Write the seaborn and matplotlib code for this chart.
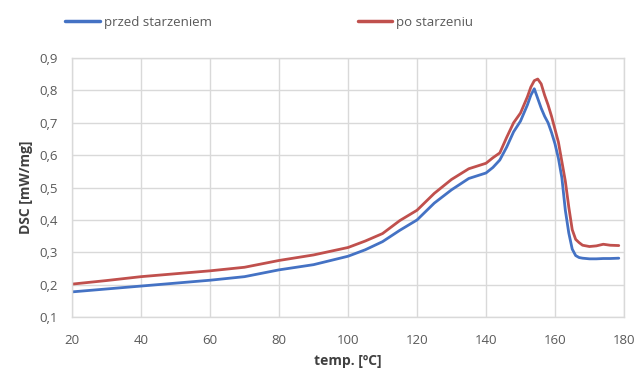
import matplotlib
matplotlib.use("Agg")
import matplotlib.pyplot as plt
import seaborn as sns
import pandas as pd
from matplotlib.ticker import FuncFormatter
from matplotlib.lines import Line2D

temp = [20, 30, 40, 50, 60, 70, 80, 90, 100, 105, 110, 115, 120, 125, 130, 135,
        140, 142, 144, 146, 148, 150, 152, 153, 154, 155, 156, 157, 158, 159,
        160, 161, 162, 163, 164, 165, 166, 167, 168, 170, 172, 174, 176, 178.5]

przed = [0.178, 0.187, 0.196, 0.205, 0.214, 0.225, 0.246, 0.262, 0.288, 0.308,
         0.333, 0.368, 0.400, 0.452, 0.493, 0.528, 0.545, 0.562, 0.585, 0.625,
         0.672, 0.705, 0.755, 0.785, 0.805, 0.775, 0.745, 0.720, 0.700, 0.670,
         0.635, 0.590, 0.530, 0.430, 0.360, 0.310, 0.290, 0.284, 0.282, 0.280,
         0.280, 0.281, 0.281, 0.282]

po = [0.202, 0.213, 0.225, 0.234, 0.243, 0.254, 0.275, 0.292, 0.315, 0.335,
      0.358, 0.398, 0.430, 0.482, 0.525, 0.558, 0.575, 0.592, 0.607, 0.655,
      0.700, 0.730, 0.780, 0.810, 0.830, 0.835, 0.820, 0.785, 0.755, 0.720,
      0.680, 0.640, 0.580, 0.520, 0.440, 0.370, 0.340, 0.330, 0.322, 0.318,
      0.320, 0.325, 0.322, 0.321]

series_names = ["przed starzeniem", "po starzeniu"]
colors = ["#4472C4", "#C0504D"]

x_ticks = [20, 40, 60, 80, 100, 120, 140, 160, 180]
y_ticks = [0.1, 0.2, 0.3, 0.4, 0.5, 0.6, 0.7, 0.8, 0.9]

df = pd.DataFrame({
    "temp": temp * 2,
    "DSC": przed + po,
    "seria": [series_names[0]] * len(temp) + [series_names[1]] * len(temp),
})

sns.set_theme(style="white")
plt.rcParams["font.family"] = ["Open Sans", "DejaVu Sans"]

fig = plt.figure(figsize=(6.38, 3.74), dpi=100)
ax = fig.add_axes([0.113, 0.152, 0.865, 0.693])

sns.lineplot(data=df, x="temp", y="DSC", hue="seria", palette=colors,
             hue_order=series_names, linewidth=2.0, ax=ax, legend=False)

ax.set_xlim(20, 180)
ax.set_ylim(0.1, 0.9)
ax.set_xticks(x_ticks)
ax.set_yticks(y_ticks)
ax.yaxis.set_major_formatter(FuncFormatter(lambda v, p: f"{v:.1f}".replace(".", ",")))
ax.grid(True, color="#d9d9d9", linewidth=1.0)
ax.set_axisbelow(True)
for s in ax.spines.values():
    s.set_color("#d9d9d9")
    s.set_linewidth(1.0)
ax.tick_params(axis="y", length=0, labelsize=9.5, colors="#595959", pad=10)
ax.tick_params(axis="x", length=0, labelsize=9.5, colors="#595959", pad=12)

ax.set_xlabel("temp. [ºC]", fontsize=10, fontweight="bold", color="#404040", labelpad=5)
ax.set_ylabel("DSC [mW/mg]", fontsize=10, fontweight="bold", color="#404040", labelpad=5)

handles = [Line2D([0], [0], color=c, lw=2.5) for c in colors]
fig.legend(handles, series_names, loc="center left", bbox_to_anchor=(0.084, 0.94),
           ncol=2, frameon=False, fontsize=9.5, handlelength=2.6, handletextpad=0.3,
           columnspacing=11.1, labelcolor="#595959")

fig.savefig("out.png", dpi=100)
